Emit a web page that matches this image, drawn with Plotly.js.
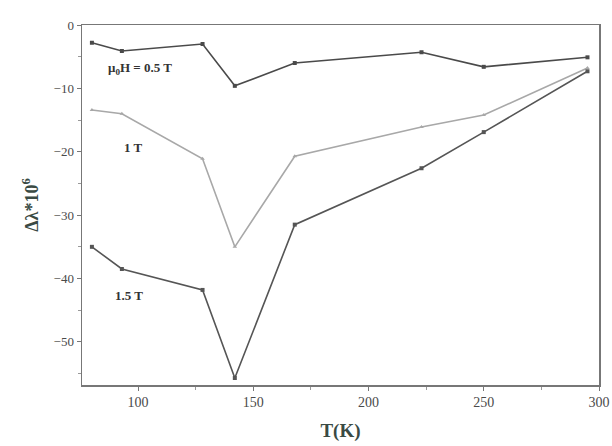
<!DOCTYPE html>
<html>
<head>
<meta charset="utf-8">
<script src="https://cdn.plot.ly/plotly-3.0.1.min.js"></script>
<style>
  html, body { margin: 0; padding: 0; background: #ffffff; }
  #chart { width: 612px; height: 446px; }
</style>
</head>
<body>
<div id="chart"></div>
<script>
// Temperature (K) at which each magnetostriction value was measured
const temperature = [80, 93, 128, 142, 168, 223, 250, 295];

// Δλ·10^6 for each applied field
const field05T = [-2.8, -4.1, -3.0, -9.6, -6.0, -4.3, -6.6, -5.1];
const field1T  = [-13.4, -14.0, -21.1, -35.0, -20.7, -16.1, -14.2, -6.8];
const field15T = [-35.0, -38.5, -41.8, -55.7, -31.5, -22.6, -16.9, -7.3];

const seriesLabels = ['μ<sub>0</sub>H = 0.5 T', '1 T', '1.5 T'];

const serif = 'Liberation Serif, Times New Roman, serif';

function series(y, color, symbol) {
  return {
    x: temperature,
    y: y,
    type: 'scatter',
    mode: 'lines+markers',
    line: { color: color, width: 1.6 },
    marker: { color: color, size: 4, symbol: symbol },
    hoverinfo: 'skip',
    showlegend: false
  };
}

const traces = [
  series(field05T, '#4a4a4a', 'square'),
  series(field1T, '#a8a8a8', 'triangle-up'),
  series(field15T, '#555555', 'square')
];

const labelFont = { family: serif, size: 13, color: '#333333' };

const layout = {
  width: 612,
  height: 446,
  margin: { l: 82, r: 13, t: 25, b: 61 },
  paper_bgcolor: '#ffffff',
  plot_bgcolor: '#ffffff',
  showlegend: false,
  xaxis: {
    range: [75.7, 300],
    tickmode: 'linear',
    tick0: 0,
    dtick: 50,
    ticks: 'outside',
    ticklen: 4,
    tickcolor: '#777777',
    minor: { tickmode: 'linear', tick0: 0, dtick: 25, ticks: 'outside', ticklen: 3, tickcolor: '#999999' },
    showgrid: false,
    zeroline: false,
    showline: true,
    linecolor: '#777777',
    linewidth: 1.5,
    mirror: true,
    tickfont: { family: serif, size: 14, color: '#4a4a4a' },
    title: { text: '<b>T(K)</b>', font: { family: serif, size: 19, color: '#3a4a44' }, standoff: 14 }
  },
  yaxis: {
    range: [-56.8, 0],
    tickmode: 'linear',
    tick0: 0,
    dtick: 10,
    ticks: 'outside',
    ticklen: 4,
    tickcolor: '#777777',
    minor: { tickmode: 'linear', tick0: 0, dtick: 5, ticks: 'outside', ticklen: 3, tickcolor: '#999999' },
    showgrid: false,
    zeroline: false,
    showline: true,
    linecolor: '#777777',
    linewidth: 1.5,
    mirror: true,
    tickfont: { family: serif, size: 13, color: '#4a4a4a' },
    title: { text: '<b>Δλ*10<sup>6</sup></b>', font: { family: serif, size: 18, color: '#3a4a44' }, standoff: 10 }
  },
  annotations: [
    { x: 86, y: -6.8, xref: 'x', yref: 'y', xanchor: 'left', yanchor: 'middle',
      text: '<b>' + seriesLabels[0] + '</b>', showarrow: false, font: labelFont },
    { x: 93, y: -19.4, xref: 'x', yref: 'y', xanchor: 'left', yanchor: 'middle',
      text: '<b>' + seriesLabels[1] + '</b>', showarrow: false, font: labelFont },
    { x: 89, y: -42.6, xref: 'x', yref: 'y', xanchor: 'left', yanchor: 'middle',
      text: '<b>' + seriesLabels[2] + '</b>', showarrow: false, font: labelFont }
  ]
};

Plotly.newPlot('chart', traces, layout, { staticPlot: true, displayModeBar: false });
</script>
</body>
</html>
